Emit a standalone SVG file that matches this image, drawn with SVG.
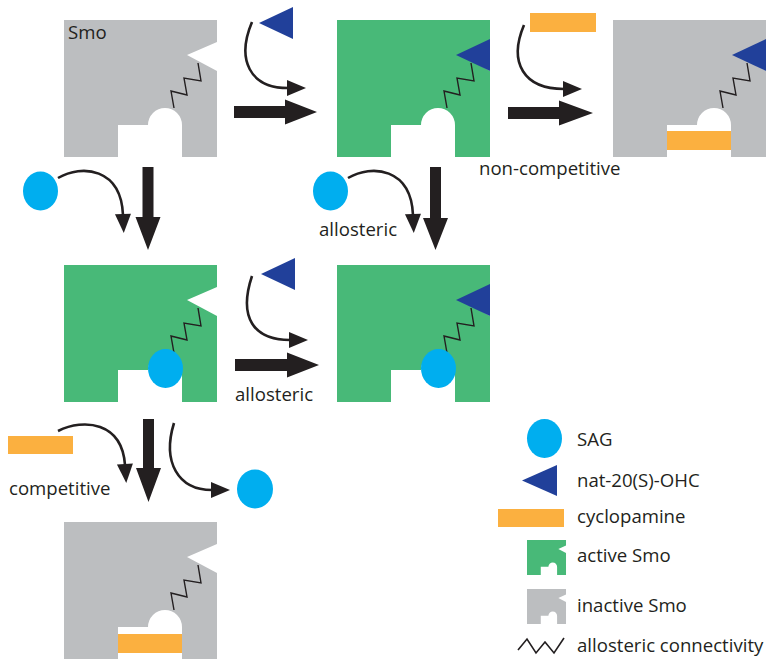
<svg xmlns="http://www.w3.org/2000/svg" xmlns:xlink="http://www.w3.org/1999/xlink" width="774" height="668" viewBox="0 0 774 668">
<style>
.gray{fill:#bcbec0}
.green{fill:#48b978}
.sag{fill:#00aeef}
.ohc{fill:#21409a}
.cyc{fill:#fbb040}
.big{fill:#231f20}
.curve{fill:none;stroke:#231f20;stroke-width:2.6}
text{font-family:"Open Sans","Liberation Sans",sans-serif;font-size:18.6px;fill:#231f20}
</style>
<defs>
<path id="smo" d="M0,0 H153 V22 L123,35 L153,51 V137 H118 V105 A17,17 0 0 0 84,105 H54 V137 H0 Z"/>
<polyline id="zig" points="110,88 107,71 123,75 120,58 137,61 134,43" fill="none" stroke="#231f20" stroke-width="1.4"/>
<polygon id="tri" points="0,16 34,0 34,32"/>
<marker id="ah" markerUnits="userSpaceOnUse" markerWidth="20" markerHeight="16" viewBox="0 0 20 16" refX="1" refY="8" orient="auto" overflow="visible">
<path d="M0,0 L19,8 L0,16 Z" fill="#231f20"/>
</marker>
</defs>

<g id="smo-inactive">
<use href="#smo" class="gray" transform="translate(64,20)"/>
<use href="#zig" transform="translate(64,20)"/>
<text x="68" y="39">Smo</text>
</g>

<g id="smo-ohc">
<use href="#smo" class="green" transform="translate(337,20)"/>
<use href="#zig" transform="translate(337,20)"/>
<use href="#tri" class="ohc" transform="translate(456,39)"/>
</g>

<g id="smo-ohc-cyclopamine">
<use href="#smo" class="gray" transform="translate(613,20)"/>
<use href="#zig" transform="translate(613,20)"/>
<use href="#tri" class="ohc" transform="translate(732,39)"/>
<rect x="667" y="131" width="64" height="19" class="cyc"/>
</g>

<g id="smo-sag">
<use href="#smo" class="green" transform="translate(64,265)"/>
<use href="#zig" transform="translate(64,265)"/>
<ellipse cx="165.5" cy="368.5" rx="17.5" ry="19.5" class="sag"/>
</g>

<g id="smo-sag-ohc">
<use href="#smo" class="green" transform="translate(337,265)"/>
<use href="#zig" transform="translate(337,265)"/>
<use href="#tri" class="ohc" transform="translate(456,284)"/>
<ellipse cx="438.5" cy="368.5" rx="17.5" ry="19.5" class="sag"/>
</g>

<g id="smo-cyclopamine">
<use href="#smo" class="gray" transform="translate(64,522)"/>
<use href="#zig" transform="translate(64,522)"/>
<rect x="118" y="634" width="64" height="19" class="cyc"/>
</g>

<g id="ligands">
<use id="ohc-top" href="#tri" class="ohc" transform="translate(259,7)"/>
<rect id="cyc-top" x="530" y="13" width="66" height="19" class="cyc"/>
<ellipse id="sag-left" cx="40.5" cy="191" rx="17.5" ry="19.5" class="sag"/>
<ellipse id="sag-mid" cx="330.5" cy="191" rx="17.5" ry="19.5" class="sag"/>
<use id="ohc-mid" href="#tri" class="ohc" transform="translate(261,258)"/>
<rect id="cyc-bottom" x="8" y="436" width="65" height="18" class="cyc"/>
<ellipse id="sag-out" cx="255" cy="489" rx="18" ry="19.5" class="sag"/>
</g>

<g id="connectors">
<polygon class="big" points="234,106 285,106 285,99.5 317,112 285,124.5 285,118 234,118"/>
<polygon class="big" points="508,107 559,107 559,100.5 593,113 559,125.5 559,119 508,119"/>
<polygon class="big" points="235,359 287,359 287,352.5 319,365 287,377.5 287,371 235,371"/>
<polygon class="big" points="142.5,167 153.5,167 153.5,217 160.5,217 148,250 135.5,217 142.5,217"/>
<polygon class="big" points="430,167 441,167 441,218 448,218 435.5,250 423,218 430,218"/>
<polygon class="big" points="143,419 154,419 154,468 161,468 148.5,502 136,468 143,468"/>
<path class="curve" marker-end="url(#ah)" d="M252,22 C236,60 250,88 288,88"/>
<path class="curve" marker-end="url(#ah)" d="M524,25 C508,63 524,89 564,89"/>
<path class="curve" marker-end="url(#ah)" d="M58,178 C82,164 121,168 123,215"/>
<path class="curve" marker-end="url(#ah)" d="M348,178 C372,164 411,168 413,215"/>
<path class="curve" marker-end="url(#ah)" d="M252,276 C238,318 254,340 290,340"/>
<path class="curve" marker-end="url(#ah)" d="M58,431 C84,418 122,422 125,465"/>
<path class="curve" marker-end="url(#ah)" d="M174,423 C162,462 178,490 212,490"/>
</g>

<g id="labels">
<text x="479" y="175">non-competitive</text>
<text x="319" y="236">allosteric</text>
<text x="235" y="401">allosteric</text>
<text x="9" y="495">competitive</text>
</g>

<g id="legend">
<g id="legend-sag">
<ellipse cx="544.5" cy="438.5" rx="17.5" ry="19.5" class="sag"/>
<text x="577" y="446">SAG</text>
</g>
<g id="legend-ohc">
<use href="#tri" class="ohc" transform="translate(522,465) scale(1.03,0.97)"/>
<text x="577" y="487">nat-20(S)-OHC</text>
</g>
<g id="legend-cyc">
<rect x="498" y="509" width="66" height="18" class="cyc"/>
<text x="577" y="523">cyclopamine</text>
</g>
<g id="legend-active">
<use href="#smo" class="green" transform="translate(527,540) scale(0.255)"/>
<text x="577" y="562">active Smo</text>
</g>
<g id="legend-inactive">
<use href="#smo" class="gray" transform="translate(527,589) scale(0.255)"/>
<text x="577" y="612">inactive Smo</text>
</g>
<g id="legend-zig">
<polyline points="518,650 527,639 536,653 545,642 554,653 564,638" fill="none" stroke="#231f20" stroke-width="1.6"/>
<text x="577" y="652">allosteric connectivity</text>
</g>
</g>
</svg>
